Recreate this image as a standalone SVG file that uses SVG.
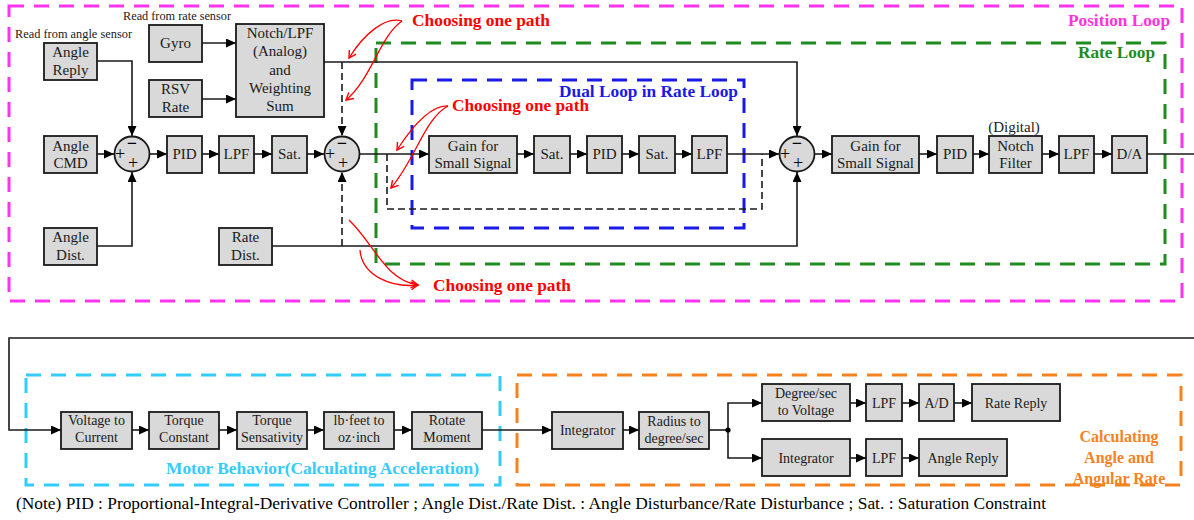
<svg xmlns="http://www.w3.org/2000/svg" width="1194" height="520" viewBox="0 0 1194 520">
<defs>
<marker id="ah" markerUnits="userSpaceOnUse" markerWidth="11" markerHeight="9" refX="10" refY="4.5" orient="auto"><path d="M0,0 L10,4.5 L0,9 z" fill="#000"/></marker>
<marker id="rh" markerUnits="userSpaceOnUse" markerWidth="10" markerHeight="10" refX="8" refY="5" orient="auto"><path d="M1,1 L8,5 L1,9" fill="none" stroke="#f00" stroke-width="1.4"/></marker>
<style>
.b{fill:#d9d9d9;stroke:#1a1a1a;stroke-width:1.8}
.c{fill:#d9d9d9;stroke:#1a1a1a;stroke-width:1.8}
.t{font-family:"Liberation Serif","Times New Roman",serif;font-size:15px;fill:#1a1a1a;text-anchor:middle}
.s{font-size:14px}
.sg{font-family:"Liberation Serif","Times New Roman",serif;font-size:18px;fill:#000;text-anchor:middle}
.l{fill:none;stroke:#1a1a1a;stroke-width:1.6}
.d{stroke-dasharray:7 4}
.r{fill:none;stroke:#f00;stroke-width:1.3}
.frame{fill:none;stroke-width:3;stroke-dasharray:15 10}
.lbl{font-family:"Liberation Serif","Times New Roman",serif;font-weight:bold;font-size:16px}
.note{font-family:"Liberation Serif","Times New Roman",serif;font-size:16px;fill:#000}
</style>
</defs>
<rect x="0" y="0" width="1194" height="520" fill="#fff"/>

<g id="frames">
<rect class="frame" x="9" y="6" width="1173" height="295" stroke="#ff33ee"/>
<rect class="frame" x="376" y="43" width="789" height="221" stroke="#1e8c1e"/>
<rect class="frame" x="412" y="80" width="332" height="148" stroke="#1a1ae6"/>
<rect class="frame" x="26" y="375" width="474" height="110" stroke="#33ccff"/>
<rect class="frame" x="517" y="375" width="664" height="110" stroke="#f5821f"/>
</g>

<g id="frame-labels">
<text class="lbl" x="1068" y="26" fill="#ff33dd" textLength="102" lengthAdjust="spacingAndGlyphs">Position Loop</text>
<text class="lbl" x="1078" y="58" fill="#1e8c1e" textLength="77" lengthAdjust="spacingAndGlyphs">Rate Loop</text>
<text class="lbl" x="559" y="97" fill="#1a1ae6" textLength="179" lengthAdjust="spacingAndGlyphs">Dual Loop in Rate Loop</text>
<text class="lbl" x="166" y="474" fill="#33ccff" textLength="313" lengthAdjust="spacingAndGlyphs">Motor Behavior(Calculating Acceleration)</text>
<g class="lbl" fill="#f5821f" text-anchor="middle" font-size="17">
<text x="1119" y="442">Calculating</text>
<text x="1119" y="463">Angle and</text>
<text x="1119" y="484">Angular Rate</text>
</g>
<text class="lbl" x="412" y="26" fill="#f00" textLength="138" lengthAdjust="spacingAndGlyphs">Choosing one path</text>
<text class="lbl" x="452" y="111" fill="#f00" textLength="137" lengthAdjust="spacingAndGlyphs">Choosing one path</text>
<text class="lbl" x="433" y="291" fill="#f00" textLength="138" lengthAdjust="spacingAndGlyphs">Choosing one path</text>
</g>

<g id="annotations">
<text class="t" x="123" y="20" style="text-anchor:start;font-size:12.5px" textLength="108" lengthAdjust="spacingAndGlyphs">Read from rate sensor</text>
<text class="t" x="15" y="38" style="text-anchor:start;font-size:12.5px" textLength="117" lengthAdjust="spacingAndGlyphs">Read from angle sensor</text>
<text class="t" x="1014" y="132">(Digital)</text>
<text class="note" x="16" y="509" textLength="1030" lengthAdjust="spacingAndGlyphs">(Note) PID : Proportional-Integral-Derivative Controller ; Angle Dist./Rate Dist. : Angle Disturbance/Rate Disturbance ; Sat. : Saturation Constraint</text>
</g>

<g id="connectors">
<path class="l" d="M97,154 H114" marker-end="url(#ah)"/>
<path class="l" d="M97,61 H132 V136" marker-end="url(#ah)"/>
<path class="l" d="M97,246 H132 V172" marker-end="url(#ah)"/>
<path class="l" d="M149.5,154 H167" marker-end="url(#ah)"/>
<path class="l" d="M202,154 H219" marker-end="url(#ah)"/>
<path class="l" d="M254,154 H272" marker-end="url(#ah)"/>
<path class="l" d="M307,154 H324" marker-end="url(#ah)"/>
<path class="l" d="M202,43 H236" marker-end="url(#ah)"/>
<path class="l" d="M202,99 H236" marker-end="url(#ah)"/>
<path class="l" d="M324,62 H797 V136" marker-end="url(#ah)"/>
<path class="l d" d="M342,62 V136" marker-end="url(#ah)"/>
<path class="l d" d="M342,246 V172" marker-end="url(#ah)"/>
<path class="l" d="M272,246 H797 V172" marker-end="url(#ah)"/>
<path class="l" d="M359.5,154 H429" marker-end="url(#ah)"/>
<path class="l d" d="M387,154 V209 H762 V154" stroke-width="1.3"/>
<path class="l" d="M517,154 H534" marker-end="url(#ah)"/>
<path class="l" d="M570,154 H587" marker-end="url(#ah)"/>
<path class="l" d="M622,154 H639" marker-end="url(#ah)"/>
<path class="l" d="M675,154 H692" marker-end="url(#ah)"/>
<path class="l" d="M727,154 H779" marker-end="url(#ah)"/>
<path class="l" d="M814.5,154 H832" marker-end="url(#ah)"/>
<path class="l" d="M919,154 H937" marker-end="url(#ah)"/>
<path class="l" d="M973,154 H989" marker-end="url(#ah)"/>
<path class="l" d="M1042,154 H1059" marker-end="url(#ah)"/>
<path class="l" d="M1094,154 H1112" marker-end="url(#ah)"/>
<path class="l" d="M1147,154 H1194"/>
<path class="l" d="M1194,338 H9 V430 H61" marker-end="url(#ah)"/>
<path class="l" d="M132,430 H149" marker-end="url(#ah)"/>
<path class="l" d="M219,430 H237" marker-end="url(#ah)"/>
<path class="l" d="M307,430 H324" marker-end="url(#ah)"/>
<path class="l" d="M394,430 H412" marker-end="url(#ah)"/>
<path class="l" d="M482,430 H552" marker-end="url(#ah)"/>
<path class="l" d="M623,430 H639" marker-end="url(#ah)"/>
<path class="l" d="M709,430 H728"/>
<path class="l" d="M728,430 V403 H762" marker-end="url(#ah)"/>
<path class="l" d="M728,430 V458 H762" marker-end="url(#ah)"/>
<circle cx="728" cy="430" r="2.6" fill="#000"/>
<path class="l" d="M850,403 H866" marker-end="url(#ah)"/>
<path class="l" d="M902,403 H919" marker-end="url(#ah)"/>
<path class="l" d="M954,403 H972" marker-end="url(#ah)"/>
<path class="l" d="M850,458 H866" marker-end="url(#ah)"/>
<path class="l" d="M902,458 H919" marker-end="url(#ah)"/>
<path class="r" d="M402,21 C385,16 364,34 349,58" marker-end="url(#rh)"/>
<path class="r" d="M402,21 C380,36 372,78 346,100" marker-end="url(#rh)"/>
<path class="r" d="M448,106 C430,105 410,130 397,150" marker-end="url(#rh)"/>
<path class="r" d="M448,106 C425,118 415,160 391,188" marker-end="url(#rh)"/>
<path class="r" d="M349,220 C375,245 385,280 418,285" marker-end="url(#rh)"/>
<path class="r" d="M360,250 C362,276 392,288 418,285" marker-end="url(#rh)"/>
</g>

<g id="angle-reply"><rect class="b" x="44" y="43" width="53" height="37"/><text class="t" x="70.5" y="57">Angle</text><text class="t" x="70.5" y="75">Reply</text></g>
<g id="angle-cmd"><rect class="b" x="44" y="136" width="53" height="37"/><text class="t" x="70.5" y="151">Angle</text><text class="t" x="70.5" y="168">CMD</text></g>
<g id="angle-dist"><rect class="b" x="44" y="228" width="53" height="37"/><text class="t" x="70.5" y="242">Angle</text><text class="t" x="70.5" y="260">Dist.</text></g>
<g id="gyro"><rect class="b" x="149" y="25" width="53" height="37"/><text class="t" x="175.5" y="48">Gyro</text></g>
<g id="rsv-rate"><rect class="b" x="149" y="80" width="53" height="37"/><text class="t" x="175.5" y="94">RSV</text><text class="t" x="175.5" y="112">Rate</text></g>
<g id="notch-lpf"><rect class="b" x="236" y="24" width="88" height="93"/><text class="t" x="280" y="38">Notch/LPF</text><text class="t" x="280" y="56">(Analog)</text><text class="t" x="280" y="75">and</text><text class="t" x="280" y="93">Weighting</text><text class="t" x="280" y="111">Sum</text></g>
<g id="sum1"><circle class="c" cx="132" cy="154" r="17.5"/><text class="sg" x="120" y="160">+</text><text class="sg" x="132" y="149" font-weight="bold">−</text><text class="sg" x="133" y="169">+</text></g>
<g id="pid1"><rect class="b" x="167" y="136" width="35" height="37"/><text class="t" x="184.5" y="159">PID</text></g>
<g id="lpf1"><rect class="b" x="219" y="136" width="35" height="37"/><text class="t" x="236.5" y="159">LPF</text></g>
<g id="sat1"><rect class="b" x="272" y="136" width="35" height="37"/><text class="t" x="289.5" y="159">Sat.</text></g>
<g id="sum2"><circle class="c" cx="342" cy="154" r="17.5"/><text class="sg" x="330" y="160">+</text><text class="sg" x="342" y="149" font-weight="bold">−</text><text class="sg" x="343" y="169">+</text></g>
<g id="rate-dist"><rect class="b" x="219" y="228" width="53" height="37"/><text class="t" x="245.5" y="242">Rate</text><text class="t" x="245.5" y="260">Dist.</text></g>
<g id="gain1"><rect class="b" x="429" y="136" width="88" height="37"/><text class="t" x="473" y="151">Gain for</text><text class="t" x="473" y="168">Small Signal</text></g>
<g id="sat2"><rect class="b" x="534" y="136" width="36" height="37"/><text class="t" x="552" y="159">Sat.</text></g>
<g id="pid2"><rect class="b" x="587" y="136" width="35" height="37"/><text class="t" x="604.5" y="159">PID</text></g>
<g id="sat3"><rect class="b" x="639" y="136" width="36" height="37"/><text class="t" x="657" y="159">Sat.</text></g>
<g id="lpf2"><rect class="b" x="692" y="136" width="35" height="37"/><text class="t" x="709.5" y="159">LPF</text></g>
<g id="sum3"><circle class="c" cx="797" cy="154" r="17.5"/><text class="sg" x="785" y="160">+</text><text class="sg" x="797" y="149" font-weight="bold">−</text><text class="sg" x="798" y="169">+</text></g>
<g id="gain2"><rect class="b" x="832" y="136" width="87" height="37"/><text class="t" x="875.5" y="151">Gain for</text><text class="t" x="875.5" y="168">Small Signal</text></g>
<g id="pid3"><rect class="b" x="937" y="136" width="36" height="37"/><text class="t" x="955" y="159">PID</text></g>
<g id="notch-digital"><rect class="b" x="989" y="136" width="53" height="37"/><text class="t" x="1015.5" y="151">Notch</text><text class="t" x="1015.5" y="168">Filter</text></g>
<g id="lpf3"><rect class="b" x="1059" y="136" width="35" height="37"/><text class="t" x="1076.5" y="159">LPF</text></g>
<g id="da"><rect class="b" x="1112" y="136" width="35" height="37"/><text class="t" x="1129.5" y="159">D/A</text></g>

<g id="v2c"><rect class="b" x="61" y="412" width="71" height="37"/><text class="t s" x="96.5" y="425">Voltage to</text><text class="t s" x="96.5" y="442">Current</text></g>
<g id="torque-const"><rect class="b" x="149" y="412" width="70" height="37"/><text class="t s" x="184" y="425">Torque</text><text class="t s" x="184" y="442">Constant</text></g>
<g id="torque-sens"><rect class="b" x="237" y="412" width="70" height="37"/><text class="t s" x="272" y="425">Torque</text><text class="t s" x="272" y="442">Sensativity</text></g>
<g id="lbfeet"><rect class="b" x="324" y="412" width="70" height="37"/><text class="t s" x="359" y="425">lb·feet to</text><text class="t s" x="359" y="442">oz·inch</text></g>
<g id="rotate"><rect class="b" x="412" y="412" width="70" height="37"/><text class="t s" x="447" y="425">Rotate</text><text class="t s" x="447" y="442">Moment</text></g>
<g id="integrator1"><rect class="b" x="552" y="412" width="71" height="37"/><text class="t s" x="587.5" y="435">Integrator</text></g>
<g id="radius"><rect class="b" x="639" y="412" width="70" height="37"/><text class="t s" x="674" y="426">Radius to</text><text class="t s" x="674" y="443">degree/sec</text></g>
<g id="deg2v"><rect class="b" x="762" y="384" width="88" height="37"/><text class="t s" x="806" y="398">Degree/sec</text><text class="t s" x="806" y="415">to Voltage</text></g>
<g id="lpf4"><rect class="b" x="866" y="384" width="36" height="37"/><text class="t s" x="884" y="408">LPF</text></g>
<g id="ad"><rect class="b" x="919" y="384" width="35" height="37"/><text class="t s" x="936.5" y="408">A/D</text></g>
<g id="rate-reply"><rect class="b" x="972" y="384" width="88" height="37"/><text class="t s" x="1016" y="408">Rate Reply</text></g>
<g id="integrator2"><rect class="b" x="762" y="439" width="88" height="37"/><text class="t s" x="806" y="463">Integrator</text></g>
<g id="lpf5"><rect class="b" x="866" y="439" width="36" height="37"/><text class="t s" x="884" y="463">LPF</text></g>
<g id="angle-reply2"><rect class="b" x="919" y="439" width="88" height="37"/><text class="t s" x="963" y="463">Angle Reply</text></g>
</svg>
